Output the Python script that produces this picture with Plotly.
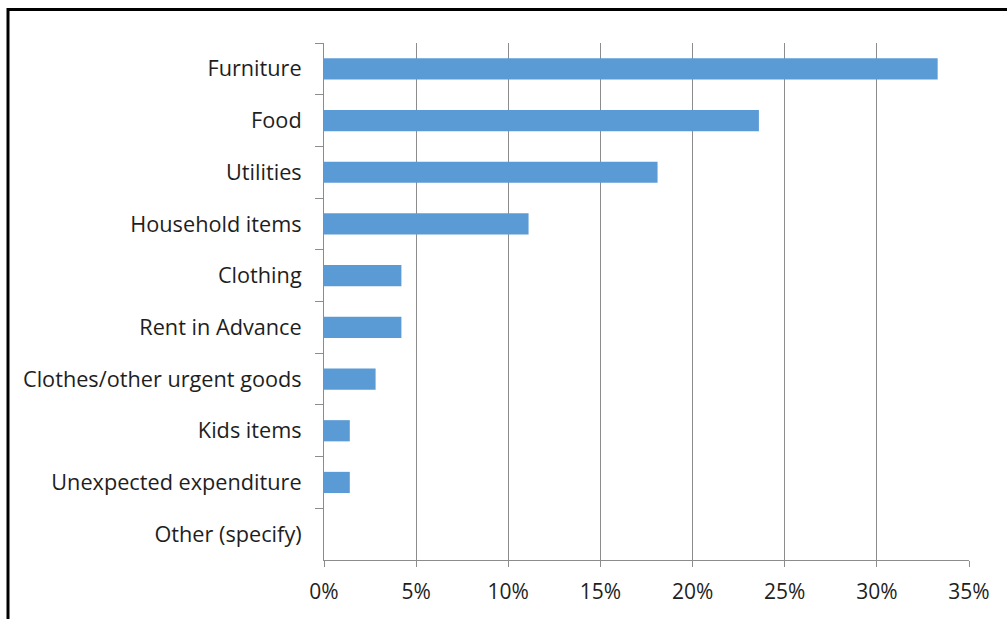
import plotly.graph_objects as go

categories = ["Furniture", "Food", "Utilities", "Household items", "Clothing",
              "Rent in Advance", "Clothes/other urgent goods", "Kids items",
              "Unexpected expenditure", "Other (specify)"]
values = [33.3, 23.6, 18.1, 11.1, 4.2, 4.2, 2.8, 1.4, 1.4, 0.0]
x_ticks = [0, 5, 10, 15, 20, 25, 30, 35]
x_tick_labels = ["0%", "5%", "10%", "15%", "20%", "25%", "30%", "35%"]

FONT = "Open Sans"
GRAY = "#8c8c8c"
TXT = "#1e1e1e"

fig = go.Figure(go.Bar(
    x=values, y=categories, orientation="h",
    marker=dict(color="#5b9bd5", line=dict(width=0)),
    width=0.41,
))

fig.update_layout(
    width=1007, height=619,
    margin=dict(l=324, r=38, t=43, b=59),
    paper_bgcolor="white", plot_bgcolor="white",
    showlegend=False,
    font=dict(family=FONT, size=21, color=TXT),
    xaxis=dict(
        range=[0, 35], tickvals=x_ticks, ticktext=x_tick_labels,
        showgrid=True, gridcolor=GRAY, gridwidth=1,
        showline=True, linecolor=GRAY, linewidth=1,
        ticks="outside", ticklen=6, tickcolor=GRAY,
        zeroline=False, ticklabelstandoff=7,
        tickfont=dict(family=FONT, size=21, color=TXT),
    ),
    yaxis=dict(
        categoryorder="array", categoryarray=categories, autorange="reversed",
        showgrid=False, showline=True, linecolor=GRAY, linewidth=1,
        ticks="outside", ticklen=8, tickcolor=GRAY, tickson="boundaries",
        ticklabelstandoff=17,
        tickfont=dict(family=FONT, size=21.7, color=TXT),
    ),
    shapes=[dict(type="rect", xref="paper", yref="paper",
                 x0=(8 - 324) / 645, x1=1.3, y0=-0.3, y1=1 + (43 - 9.5) / 517,
                 line=dict(color="black", width=3), fillcolor="rgba(0,0,0,0)",
                 layer="below")],
)

fig.write_html("out.html")
